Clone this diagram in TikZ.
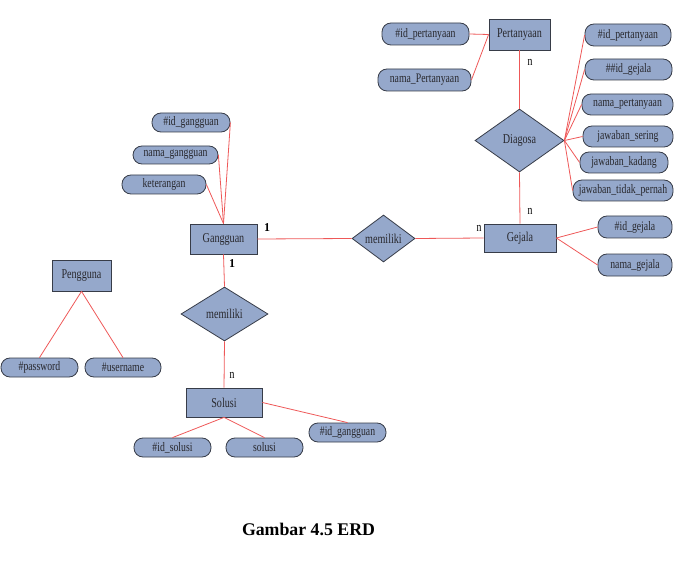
\documentclass[tikz,border=0pt]{standalone}
\usepackage{fontspec}
\setmainfont{Liberation Serif}
\newfontfamily\condfont[FakeStretch=0.75]{Liberation Serif}
\usetikzlibrary{shapes.geometric}
\definecolor{erfill}{RGB}{149,168,203}
\definecolor{erdraw}{RGB}{55,60,72}
\definecolor{erline}{RGB}{238,88,88}
\definecolor{ertext}{RGB}{40,40,45}
\tikzset{
  entity/.style={rectangle,draw=erdraw,fill=erfill,line width=0.8pt,inner sep=0pt,text=ertext,font=\condfont\fontsize{13.5}{14}\selectfont},
  attr/.style={rectangle,rounded corners=9pt,draw=erdraw,fill=erfill,line width=0.8pt,inner sep=0pt,text=ertext,font=\condfont\fontsize{13}{14}\selectfont},
  rel/.style={diamond,draw=erdraw,fill=erfill,line width=0.8pt,inner sep=0pt,text=ertext,font=\condfont\fontsize{13.5}{14}\selectfont},
  conn/.style={draw=erline,line width=0.8pt},
  card/.style={inner sep=0pt,font=\condfont\fontsize{13}{14}\selectfont,text=black},
}
\begin{document}
\begin{tikzpicture}[x=1pt,y=-1pt]
\useasboundingbox (0,0) rectangle (680,564);
% entities
\node[entity,minimum width=61pt,minimum height=31pt] (pert) at (519.5,34.5) {Pertanyaan};
\node[entity,minimum width=67pt,minimum height=30pt] (gang) at (223.5,239) {Gangguan};
\node[entity,minimum width=72pt,minimum height=28pt] (gej) at (520,238) {Gejala};
\node[entity,minimum width=59pt,minimum height=31pt] (peng) at (81.5,275.5) {Pengguna};
\node[entity,minimum width=76pt,minimum height=29pt] (sol) at (224,402.5) {Solusi};
% relationships
\node[rel,minimum width=89pt,minimum height=63pt] (diag) at (519.5,140.5) {Diagosa};
\node[rel,minimum width=63pt,minimum height=47pt] (mem1) at (383.5,238.5) {memiliki};
\node[rel,minimum width=87pt,minimum height=54pt] (mem2) at (224.5,314) {memiliki};
% attributes
\node[attr,minimum width=87pt,minimum height=22pt] (idp) at (425.5,34) {\#id\_pertanyaan};
\node[attr,minimum width=93pt,minimum height=22pt] (namaP) at (424.5,80) {nama\_Pertanyaan};
\node[attr,minimum width=86pt,minimum height=22pt] (idpd) at (628,35) {\#id\_pertanyaan};
\node[attr,minimum width=87pt,minimum height=21pt] (idgd) at (628.5,69.5) {\#\#id\_gejala};
\node[attr,minimum width=91pt,minimum height=21pt] (namapd) at (627.5,104.5) {nama\_pertanyaan};
\node[attr,minimum width=90pt,minimum height=21pt] (jser) at (628,136.5) {jawaban\_sering};
\node[attr,minimum width=88pt,minimum height=21pt] (jkad) at (624,162.5) {jawaban\_kadang};
\node[attr,minimum width=100pt,minimum height=21pt] (jtid) at (623,190.5) {jawaban\_tidak\_pernah};
\node[attr,minimum width=74pt,minimum height=22pt] (idgej) at (635,227) {\#id\_gejala};
\node[attr,minimum width=74pt,minimum height=22pt] (namagej) at (635,265) {nama\_gejala};
\node[attr,minimum width=78pt,minimum height=19pt] (idg) at (191,122.5) {\#id\_gangguan};
\node[attr,minimum width=85pt,minimum height=18pt] (namag) at (175.5,155) {nama\_gangguan};
\node[attr,minimum width=84pt,minimum height=19pt] (ket) at (164,184.5) {keterangan};
\node[attr,minimum width=77pt,minimum height=19pt] (pass) at (39.5,367.5) {\#password};
\node[attr,minimum width=76pt,minimum height=19pt] (user) at (123,367.5) {\#username};
\node[attr,minimum width=77pt,minimum height=19pt] (idsol) at (172.5,447.5) {\#id\_solusi};
\node[attr,minimum width=77pt,minimum height=19pt] (solu) at (264.5,447.5) {solusi};
\node[attr,minimum width=77pt,minimum height=19pt] (idgs) at (347.5,432.5) {\#id\_gangguan};
% connectors
\draw[conn] (pert.west) -- (idp.east);
\draw[conn] (pert.west) -- (namaP.east);
\draw[conn] (pert.south) -- (diag.north);
\draw[conn] (diag.south) -- (gej.north);
\foreach \a in {idpd,idgd,namapd,jser,jkad,jtid} \draw[conn] (diag.east) -- (\a.west);
\draw[conn] (gej.east) -- (idgej.west);
\draw[conn] (gej.east) -- (namagej.west);
\draw[conn] (gang.east) -- (mem1.west);
\draw[conn] (mem1.east) -- (gej.west);
\draw[conn] (gang.north) -- (idg.east);
\draw[conn] (gang.north) -- (namag.east);
\draw[conn] (gang.north) -- (ket.east);
\draw[conn] (gang.south) -- (mem2.north);
\draw[conn] (mem2.south) -- (sol.north);
\draw[conn] (sol.south) -- (idsol.north);
\draw[conn] (sol.south) -- (solu.north);
\draw[conn] (sol.east) -- (idgs.north);
\draw[conn] (peng.south) -- (pass.north);
\draw[conn] (peng.south) -- (user.north);
% cardinalities
\node[card,font=\fontsize{12}{13}\selectfont\bfseries] (c1) at (267,228) {1};
\node[card,font=\fontsize{12}{13}\selectfont\bfseries] (c2) at (232,264) {1};
\node[card] (c3) at (530,62) {n};
\node[card] (c4) at (530,211) {n};
\node[card] (c5) at (479,228) {n};
\node[card] (c6) at (232,375) {n};
% caption
\node[inner sep=0pt,font=\fontsize{17.8}{20}\selectfont\bfseries] (cap) at (308.5,529) {Gambar 4.5 ERD};
\end{tikzpicture}
\end{document}
